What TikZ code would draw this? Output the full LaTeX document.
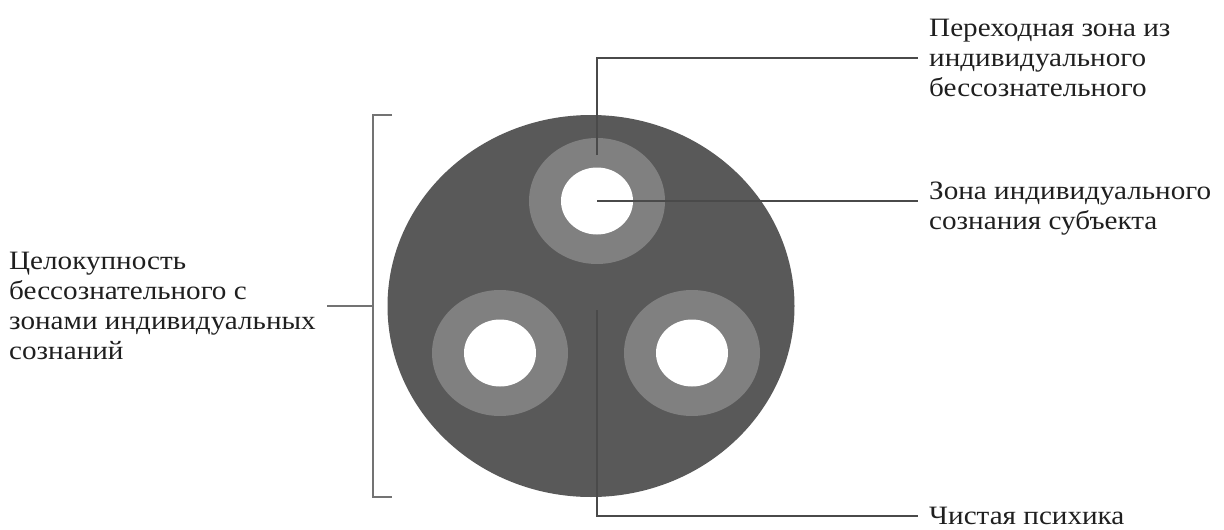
\documentclass[tikz,border=0pt]{standalone}
\usepackage{fontspec}
\setmainfont[FakeStretch=1.1]{Liberation Serif}
\usetikzlibrary{shapes.geometric}

\definecolor{PsycheColor}{HTML}{595959}
\definecolor{RingColor}{HTML}{808080}
\definecolor{LeaderColor}{HTML}{4A4A4A}

\tikzset{
  zone/.style={ellipse, inner sep=0pt, draw=none},
  label text/.style={font=\fontsize{26.5}{30}\selectfont, align=left, inner xsep=11pt, inner ysep=3pt, text=black!88},
  leader/.style={draw=LeaderColor, line width=1.1pt}
}

\begin{document}
\begin{tikzpicture}[x=1pt,y=-1pt]
  % ===== Marco =====
  \useasboundingbox (0,0) rectangle (1224,530);

  % ===== Psique =====
  \node[zone, fill=PsycheColor, minimum width=407, minimum height=382] (whole) at (591,306) {};

  % anillos (zona de transición) y huecos (conciencia)
  \foreach \name/\x/\y in {top/597/201, left/500/353, right/692/353}{
    \node[zone, fill=RingColor, minimum width=136, minimum height=126] (ring\name) at (\x,\y) {};
    \node[zone, fill=white, minimum width=72, minimum height=67] (hole\name) at (\x,\y) {};
  }

  % ===== Etiquetas =====
  \node[label text, anchor=west] (lbltrans) at (918,58) {Переходная зона из\\индивидуального\\бессознательного};
  \node[label text, anchor=west] (lblcons)  at (918,209) {Зона индивидуального\\сознания субъекта};
  \node[label text, anchor=base west, inner ysep=0pt] (lblpure)  at (918,524) {Чистая психика};
  \node[label text, anchor=east] (lblwhole) at (327,306) {Целокупность\\бессознательного с\\зонами индивидуальных\\сознаний};

  % ===== Líneas guía =====
  \coordinate (ringpt) at (597,155);
  \coordinate (purept) at (597,310);
  \coordinate (pureend) at (918,516);
  \draw[leader] (ringpt) |- (lbltrans.west);
  \draw[leader] (holetop.center) -- (holetop.center -| lblcons.west);
  \draw[leader] (purept) |- (pureend);

  % llave izquierda
  \coordinate (brkmid) at (373,306);
  \draw[leader, draw=black!55] (392,115) -- (373,115) -- (373,497) -- (392,497);
  \draw[leader, draw=black!55] (brkmid) -- (brkmid -| lblwhole.east);
\end{tikzpicture}
\end{document}
